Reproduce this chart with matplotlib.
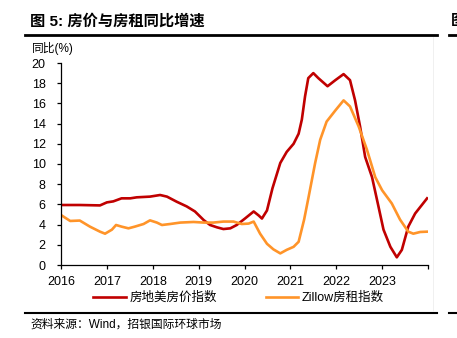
import matplotlib
matplotlib.use("Agg")
import matplotlib.pyplot as plt
from matplotlib.lines import Line2D

plt.rcParams['font.family'] = ['Liberation Sans', 'Noto Sans CJK SC', 'DejaVu Sans']

# ── Data (decimal years) ─────────────────────────────────────────────────────
PRICE_X = [2016.00, 2016.41, 2016.85, 2017.00, 2017.14, 2017.32, 2017.51, 2017.65,
           2017.94, 2018.16, 2018.31, 2018.52, 2018.74, 2018.92, 2019.11, 2019.25,
           2019.40, 2019.54, 2019.69, 2019.83, 2020.01, 2020.20, 2020.31, 2020.38,
           2020.49, 2020.61, 2020.78, 2020.92, 2021.07, 2021.18, 2021.25, 2021.32,
           2021.39, 2021.50, 2021.61, 2021.81, 2021.98, 2022.16, 2022.30, 2022.41,
           2022.52, 2022.63, 2022.78, 2022.92, 2023.03, 2023.18, 2023.32, 2023.43,
           2023.57, 2023.72, 2023.98]
PRICE_Y = [5.94, 5.94, 5.90, 6.20, 6.30, 6.60, 6.60, 6.70,
           6.77, 6.93, 6.77, 6.27, 5.80, 5.30, 4.45, 3.96,
           3.73, 3.56, 3.63, 3.96, 4.60, 5.30, 4.90, 4.60,
           5.40, 7.60, 10.1, 11.2, 12.0, 13.0, 14.4, 16.7,
           18.5, 19.0, 18.5, 17.7, 18.3, 18.9, 18.3, 16.3,
           13.7, 10.7, 8.70, 5.80, 3.50, 1.80, 0.76, 1.50,
           3.80, 5.10, 6.60]

RENT_X = [2016.00, 2016.20, 2016.41, 2016.63, 2016.85, 2016.96, 2017.11, 2017.20,
          2017.32, 2017.47, 2017.61, 2017.80, 2017.94, 2018.09, 2018.20, 2018.38,
          2018.60, 2018.89, 2019.11, 2019.32, 2019.54, 2019.76, 2019.94, 2020.09,
          2020.20, 2020.34, 2020.49, 2020.63, 2020.78, 2020.92, 2021.07, 2021.18,
          2021.30, 2021.40, 2021.54, 2021.65, 2021.79, 2021.98, 2022.16, 2022.30,
          2022.49, 2022.67, 2022.85, 2023.00, 2023.21, 2023.39, 2023.57, 2023.68,
          2023.83, 2023.98]
RENT_Y = [4.95, 4.36, 4.40, 3.80, 3.30, 3.10, 3.50, 3.96,
          3.80, 3.63, 3.80, 4.06, 4.42, 4.20, 3.96, 4.06,
          4.20, 4.26, 4.20, 4.20, 4.30, 4.30, 4.06, 4.10,
          4.30, 3.10, 2.10, 1.55, 1.15, 1.50, 1.80, 2.30,
          4.50, 6.80, 10.1, 12.4, 14.2, 15.3, 16.3, 15.7,
          13.7, 11.4, 8.70, 7.40, 6.10, 4.50, 3.30, 3.10,
          3.27, 3.30]

YEAR_TICKS = [2016, 2017, 2018, 2019, 2020, 2021, 2022, 2023, 2024]
YEAR_LABELS = ["2016", "2017", "2018", "2019", "2020", "2021", "2022", "2023", ""]
Y_TICKS = list(range(0, 21, 2))

RED = "#C00000"
ORANGE = "#FF9429"

W, H = 457, 338
fig = plt.figure(figsize=(W / 100, H / 100), dpi=100)

def fx(px):
    return px / W

def fy(py):
    return 1 - py / H

ax = fig.add_axes([fx(61), fy(265), fx(428) - fx(61), fy(63) - fy(265)])
ax.plot(PRICE_X, PRICE_Y, color=RED, lw=1.9, solid_joinstyle="round", label="房地美房价指数")
ax.plot(RENT_X, RENT_Y, color=ORANGE, lw=1.9, solid_joinstyle="round", label="Zillow房租指数")

ax.set_xlim(2016, 2024)
ax.set_ylim(0, 20)
ax.set_xticks(YEAR_TICKS)
ax.set_xticklabels(YEAR_LABELS)
ax.set_yticks(Y_TICKS)
for s in ("top", "right"):
    ax.spines[s].set_visible(False)
for s in ("left", "bottom"):
    ax.spines[s].set_linewidth(0.9)
ax.tick_params(axis="y", length=3, width=0.9, pad=8, labelsize=9)
ax.tick_params(axis="x", length=3, width=0.9, pad=5, labelsize=9)

# legend below plot
ax.legend(loc="center left", bbox_to_anchor=(fx(93), fy(298)), bbox_transform=fig.transFigure,
          ncol=2, frameon=False, fontsize=9, handlelength=2.6, handletextpad=0.3,
          columnspacing=3.9, borderaxespad=0, borderpad=0)

# title, rules, source
fig.text(fx(30), fy(21), "图 5: 房价与房租同比增速", fontsize=11, fontweight="bold",
         va="center", ha="left")
fig.text(fx(32), fy(48), "同比(%)", fontsize=8.5, va="center", ha="left")
fig.add_artist(Line2D([fx(25), fx(437)], [fy(35), fy(35)], color="black", lw=2))
fig.add_artist(Line2D([fx(449), fx(460)], [fy(35), fy(35)], color="black", lw=2))
fig.add_artist(Line2D([fx(25), fx(437)], [fy(313), fy(313)], color="black", lw=1.5))
fig.add_artist(Line2D([fx(449), fx(460)], [fy(313), fy(313)], color="black", lw=1.5))
fig.add_artist(Line2D([fx(433), fx(433)], [fy(37), fy(311)], color="#eeeeee", lw=0.6))
fig.text(fx(30), fy(325), "资料来源：Wind，招银国际环球市场", fontsize=8.5, va="center", ha="left")
fig.text(fx(451), fy(21), "图", fontsize=11, fontweight="bold", va="center", ha="left")

fig.savefig("out.png", dpi=100)
